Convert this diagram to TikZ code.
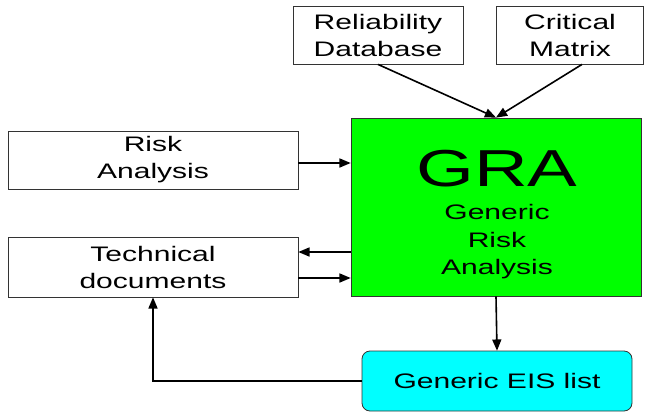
\documentclass[tikz,border=0pt]{standalone}
\usepackage{fontspec}
\setmainfont{Liberation Sans}[FakeStretch=1.43]
\usepackage{tikz}
\usetikzlibrary{shapes,arrows,positioning,calc}
\definecolor{graGreen}{RGB}{0,255,0}
\definecolor{eisCyan}{RGB}{0,255,255}

\begin{document}
\begin{tikzpicture}[
  x=1pt, y=-1pt,
  box/.style={draw=black!80, line width=0.8pt, inner sep=0pt, align=center, font=\fontsize{21}{27}\selectfont},
  grabox/.style={box, fill=graGreen, minimum width=290pt, minimum height=178pt},
  eisbox/.style={box, fill=eisCyan, rounded corners=8pt, minimum width=270pt, minimum height=60pt},
  arrow/.style={->, line width=1.6pt, >=triangle 45}
]
  \useasboundingbox (0,0) rectangle (662,413);

  % Input boxes
  \node[box, minimum width=170pt, minimum height=58pt] (reldb) at (378,35) {Reliability\\Database};
  \node[box, minimum width=147pt, minimum height=58pt] (critmat) at (570,35) {Critical\\Matrix};
  \node[box, minimum width=290pt, minimum height=58pt] (risk) at (153,160) {Risk\\Analysis};
  \node[box, minimum width=290pt, minimum height=60pt] (tech) at (153,267) {Technical\\documents};

  % Central block
  \node[grabox] (gra) at (496,207) {};
  \node[inner sep=0pt, font=\fontsize{52}{52}\selectfont] (gratitle) at (497,169) {GRA};
  \node[inner sep=0pt, align=center, font=\fontsize{21}{27.5}\selectfont] (gradesc) at (497,242) {Generic\\Risk\\Analysis};

  % Output
  \node[eisbox] (eis) at (497,381) {Generic EIS list};

  % Arrows
  \draw[arrow] (reldb.south) -- (gra.north);
  \draw[arrow] ([xshift=12pt]critmat.south) -- (gra.north);
  \coordinate (riskout) at ([yshift=-3pt]risk.east);
  \draw[arrow] (riskout) -- (riskout -| gra.west);
  \coordinate (techin) at ([yshift=15pt]tech.east);
  \draw[arrow] (techin -| gra.west) -- (techin);
  \coordinate (techout) at ([yshift=-11pt]tech.east);
  \draw[arrow] (techout) -- (techout -| gra.west);
  \draw[arrow] (gra.south) -- (eis.north);
  \draw[arrow] (eis.west) -| (tech.south);
\end{tikzpicture}
\end{document}
